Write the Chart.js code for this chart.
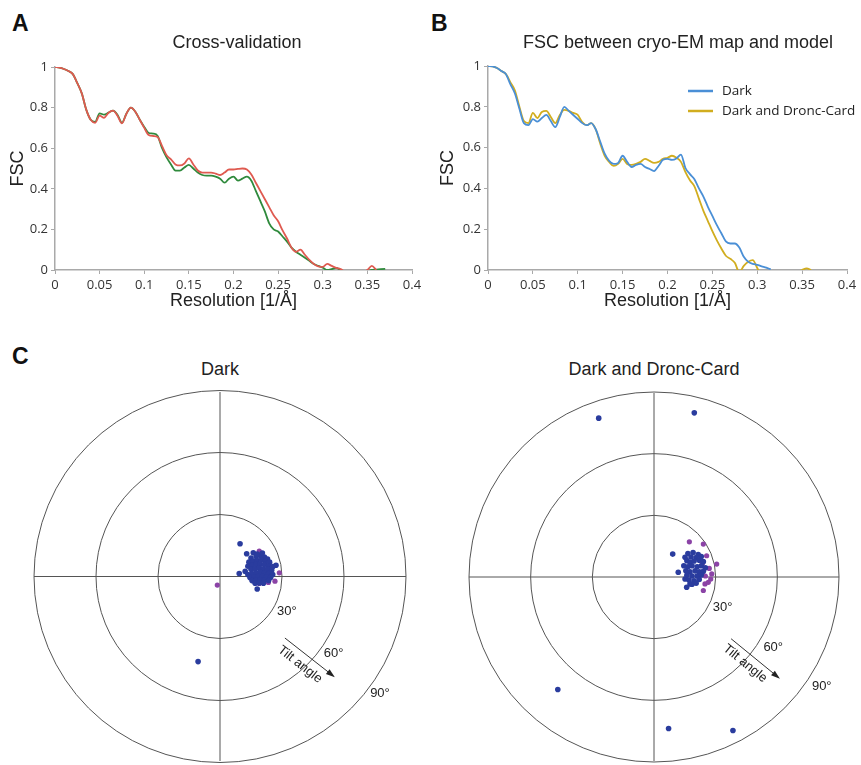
<!DOCTYPE html>
<html>
<head>
<meta charset="utf-8">
<script src="https://cdn.jsdelivr.net/npm/chart.js@4.4.1/dist/chart.umd.min.js"></script>
<style>
  html, body { margin:0; padding:0; background:#fff; }
  #wrap { position:relative; width:861px; height:765px; overflow:hidden; background:#fff; }
  canvas { position:absolute; }
  .letter { position:absolute; font-family:"Liberation Sans", Arial, sans-serif; font-weight:bold; font-size:23px; color:#111; line-height:1; }
  .ptitle { position:absolute; font-family:"Liberation Sans", Arial, sans-serif; font-size:18px; color:#222; text-align:center; line-height:20px; }
</style>
</head>
<body>
<div id="wrap">
  <div class="letter" style="left:12px;top:12px;">A</div>
  <div class="letter" style="left:431px;top:12px;">B</div>
  <div class="letter" style="left:12px;top:345px;">C</div>
  <div class="ptitle" style="left:120px;top:359px;width:200px;">Dark</div>
  <div class="ptitle" style="left:534px;top:359px;width:240px;">Dark and Dronc-Card</div>
  <canvas id="cA" width="430" height="320" style="left:0;top:0;"></canvas>
  <canvas id="cB" width="431" height="320" style="left:430px;top:0;"></canvas>
  <canvas id="cC1" width="430" height="385" style="left:0;top:380px;"></canvas>
  <canvas id="cC2" width="431" height="385" style="left:430px;top:380px;"></canvas>
</div>
<script>
// ---------------- DATA ----------------
const resolution = [0,0.005,0.01,0.015,0.02,0.025,0.03,0.035,0.04,0.045,
  0.05,0.055,0.06,0.065,0.07,0.075,0.08,0.085,0.09,0.095,
  0.1,0.105,0.11,0.115,0.12,0.125,0.13,0.135,0.14,0.145,
  0.15,0.155,0.16,0.165,0.17,0.175,0.18,0.185,0.19,0.195,
  0.2,0.205,0.21,0.215,0.22,0.225,0.23,0.235,0.24,0.245,
  0.25,0.255,0.26,0.265,0.27,0.275,0.28,0.285,0.29,0.295,
  0.3,0.305,0.31,0.315,0.32,0.325,0.33,0.335,0.34,0.345,
  0.35,0.355,0.36,0.365,0.37];

// Panel A: cross-validation
const crossRed = [1.0,0.997,0.99,0.98,0.965,0.92,0.87,0.79,0.74,0.725,
  0.76,0.75,0.775,0.785,0.76,0.722,0.77,0.80,0.78,0.74,
  0.70,0.665,0.66,0.655,0.61,0.565,0.545,0.52,0.515,0.525,
  0.55,0.52,0.49,0.48,0.48,0.48,0.475,0.468,0.48,0.495,
  0.495,0.498,0.50,0.495,0.47,0.43,0.39,0.35,0.31,0.27,
  0.24,0.195,0.155,0.11,0.09,0.10,0.075,0.05,0.03,0.018,
  0.015,0.03,0.02,0.01,0.004,-0.01,-0.02,-0.03,-0.03,-0.015,
  0.0,0.02,0.0,null,null];
const crossGreen = [1.0,0.997,0.99,0.98,0.965,0.92,0.87,0.79,0.74,0.73,
  0.772,0.765,0.775,0.785,0.765,0.725,0.77,0.80,0.78,0.74,
  0.705,0.675,0.672,0.66,0.60,0.555,0.52,0.49,0.49,0.505,
  0.518,0.50,0.48,0.468,0.465,0.465,0.46,0.45,0.43,0.45,
  0.46,0.44,0.45,0.46,0.44,0.39,0.34,0.29,0.23,0.20,
  0.19,0.165,0.14,0.11,0.09,0.075,0.06,0.045,0.03,0.02,
  0.012,0.0,0.004,0.01,0.0,-0.01,-0.01,-0.01,-0.01,-0.01,
  -0.005,0.0,0.002,0.004,0.006];

// Panel B: FSC between map and model
const fscDark = [1.0,0.998,0.99,0.975,0.96,0.91,0.865,0.79,0.72,0.71,
  0.74,0.727,0.745,0.76,0.73,0.70,0.75,0.80,0.78,0.76,
  0.74,0.72,0.71,0.72,0.69,0.63,0.57,0.535,0.52,0.525,
  0.56,0.53,0.505,0.515,0.52,0.505,0.495,0.485,0.51,0.54,
  0.545,0.54,0.547,0.566,0.50,0.47,0.445,0.40,0.36,0.31,
  0.265,0.22,0.18,0.14,0.13,0.13,0.11,0.065,0.04,0.03,
  0.025,0.018,0.012,0.003,null,null,null,null,null,null,
  null,null,null,null,null];
const fscDarkDronc = [1.0,0.998,0.99,0.975,0.96,0.92,0.88,0.80,0.73,0.72,
  0.77,0.745,0.775,0.78,0.75,0.72,0.76,0.785,0.78,0.77,
  0.76,0.725,0.71,0.72,0.69,0.62,0.56,0.53,0.51,0.52,
  0.545,0.52,0.515,0.52,0.53,0.545,0.535,0.525,0.53,0.545,
  0.55,0.56,0.55,0.53,0.48,0.44,0.41,0.35,0.29,0.24,
  0.19,0.145,0.105,0.07,0.055,0.035,-0.01,0.02,0.04,0.048,
  0.01,-0.03,-0.04,-0.04,-0.04,-0.04,-0.03,-0.03,-0.02,-0.01,
  0.0,0.008,0.0,null,null];

const xTickLabels = ['0','0.05','0.1','0.15','0.2','0.25','0.3','0.35','0.4'];
const yTickLabels = ['0','0.2','0.4','0.6','0.8','1'];

// Panel C: tilt-angle distributions, [x, y] in degrees
const darkBlue = [[9.7,16.0],[12.9,11.1],[16.1,11.6],[9.3,1.5],[18.0,-6.1],[27.1,5.5],[-10.6,-41.5],
  [15,9],[17.5,9.8],[19.5,10.2],[21.5,9.5],[23,8.5],[20.5,11.5],[18,11],
  [14,7],[16,7.5],[18,7.8],[20,8],[22,7.6],[24,7],
  [13.5,5],[15.5,5.5],[17.5,5.8],[19.5,6],[21.5,5.8],[23.5,5.2],[25.5,4.8],
  [12.2,2.5],[15,3.5],[17,3.8],[19,4],[21,3.8],[23,3.5],[25,3],
  [13.5,1],[15.5,1.5],[17.5,1.8],[19.5,2],[21.5,1.8],[23.5,1.5],[25.5,1],
  [14.5,-0.5],[16.5,-0.2],[18.5,0],[20.5,0],[22.5,-0.2],[24.5,-0.5],
  [15.5,-2],[17.5,-1.8],[19.5,-1.6],[21.5,-1.8],[23.5,-2],
  [17,-3.3],[19,-3.2],[21,-3.3]];
const darkPurple = [[19.0,12.4],[19.0,-3.4],[23.4,-2.9],[26.6,-2.3],[28.7,1.8],[-1.3,-4.2]];

const droncBlue = [[-26.9,77.7],[19.6,80.3],[-46.8,-55.0],[7.1,-74.1],[38.4,-75.1],
  [9.1,11.2],[15.1,9.6],[11.8,2.3],[15.1,-1.0],[15.9,-5.0],[17.5,-3.4],
  [16.5,11.5],[19,12],[21.5,11],[18,9.8],[20.5,9.5],[23,10],
  [16,8],[17.5,7.2],[19.5,7.8],[22,8.2],[24,7.5],
  [14.5,5.5],[16.5,5],[18.5,5.5],[21,5],[23,5.5],[25,4.5],
  [15.5,3],[17.5,2.5],[20,3],[22,2.5],[24,2.8],
  [16,0.8],[18.5,0.5],[21,0.5],[23,1],
  [17,-1.5],[19.5,-1.8],[22,-1.2],[18.5,-3.5],[20.5,-3]];
const droncPurple = [[17.2,17.2],[24.0,16.1],[30.5,6.3],[26.9,4.2],[28.1,1.5],[27.6,-1.0],
  [24.8,-3.4],[26.4,-2.6],[24.0,-6.6],[25.6,10.4],[23.5,6.5],[25,0.5]];

const ringAngles = [30, 60, 90];
const ringLabels = ['30°', '60°', '90°'];

// ---------------- HELPERS ----------------
const toXY = arr => resolution.map((x, i) => ({x: x, y: arr[i] === undefined ? null : arr[i]}));
const toPts = arr => arr.map(p => ({x: p[0], y: p[1]}));

const tickFont = {family: '"Open Sans", "Liberation Sans", sans-serif', size: 13};
const axisTitleFont = {family: '"Liberation Sans", Arial, sans-serif', size: 18};
const axisColor = '#a9a9a9';

const fixedTitle = {
  id: 'fixedTitle',
  afterDraw(chart, args, o) {
    const ctx = chart.ctx;
    ctx.save();
    ctx.font = '18px "Liberation Sans", Arial, sans-serif';
    ctx.fillStyle = '#222';
    ctx.textAlign = 'center';
    ctx.textBaseline = 'middle';
    ctx.fillText(o.text, o.x, o.y);
    ctx.restore();
  }
};

const fixedLegend = {
  id: 'fixedLegend',
  afterDraw(chart, args, o) {
    if (!o.show) return;
    const ctx = chart.ctx;
    ctx.save();
    ctx.font = '13.5px "Open Sans", "Liberation Sans", sans-serif';
    ctx.textBaseline = 'middle';
    chart.data.datasets.forEach((ds, i) => {
      const y = o.y + i * o.gap;
      ctx.strokeStyle = ds.borderColor;
      ctx.lineWidth = 2.5;
      ctx.beginPath();
      ctx.moveTo(o.x, y); ctx.lineTo(o.x + o.len, y);
      ctx.stroke();
      ctx.fillStyle = '#222';
      ctx.fillText(ds.label, o.x + o.len + 9, y);
    });
    ctx.restore();
  }
};

function lineChart(id, datasets, titleOpts, legendOpts, yWidth, rightPad, topPad) {
  return new Chart(document.getElementById(id), {
    type: 'line',
    data: { datasets: datasets },
    plugins: [fixedTitle, fixedLegend],
    options: {
      responsive: false,
      animation: false,
      layout: { padding: { left: 0, right: rightPad, top: topPad, bottom: 0 } },
      elements: { point: { radius: 0 }, line: { borderWidth: 1.8, cubicInterpolationMode: 'monotone' } },
      plugins: {
        legend: { display: false },
        tooltip: { enabled: false },
        fixedTitle: titleOpts,
        fixedLegend: legendOpts
      },
      scales: {
        x: {
          type: 'linear', min: 0, max: 0.4,
          afterFit: s => { s.height = 50; },
          ticks: { stepSize: 0.05, font: tickFont, color: '#333', padding: 3, maxRotation: 0,
                   callback: (v, i) => xTickLabels[i] },
          grid: { display: true, drawOnChartArea: false, drawTicks: true, tickLength: 4, color: axisColor },
          border: { color: axisColor, width: 1.5 },
          title: { display: true, text: 'Resolution [1/Å]', font: axisTitleFont, color: '#222', padding: { top: 0, bottom: 8 } }
        },
        y: {
          min: 0, max: 1,
          afterFit: s => { s.width = yWidth; },
          ticks: { stepSize: 0.2, font: tickFont, color: '#333', padding: 3,
                   callback: (v, i) => yTickLabels[i] },
          grid: { display: true, drawOnChartArea: false, drawTicks: true, tickLength: 4, color: axisColor },
          border: { color: axisColor, width: 1.5 },
          title: { display: true, text: 'FSC', font: axisTitleFont, color: '#222', padding: { top: 7, bottom: 0 } }
        }
      }
    }
  });
}

lineChart('cA', [
  { label: 'Cross-validation (red)', data: toXY(crossRed), borderColor: '#df5a50', spanGaps: false },
  { label: 'Cross-validation (green)', data: toXY(crossGreen), borderColor: '#2f8a3c', spanGaps: false }
], { text: 'Cross-validation', x: 237, y: 43 }, { show: false }, 55, 18, 67);

lineChart('cB', [
  { label: 'Dark', data: toXY(fscDark), borderColor: '#4a8fd6', spanGaps: false },
  { label: 'Dark and Dronc-Card', data: toXY(fscDarkDronc), borderColor: '#d1ad1f', spanGaps: false }
], { text: 'FSC between cryo-EM map and model', x: 248, y: 43 },
   { show: true, x: 258, y: 91, gap: 20, len: 25 }, 58, 14, 66);

// ---------------- POLAR TILT PLOTS ----------------
const polarDecor = {
  id: 'polarDecor',
  beforeDatasetsDraw(chart, args, o) {
    const {ctx, scales: {x, y}} = chart;
    const cx = x.getPixelForValue(0), cy = y.getPixelForValue(0);
    const P = (a, b) => [x.getPixelForValue(a), y.getPixelForValue(b)];
    ctx.save();
    ctx.strokeStyle = '#555';
    ctx.lineWidth = 1;
    ctx.beginPath();
    ctx.moveTo(x.getPixelForValue(-90), cy); ctx.lineTo(x.getPixelForValue(90), cy);
    ctx.moveTo(cx, y.getPixelForValue(90)); ctx.lineTo(cx, y.getPixelForValue(-90));
    ctx.stroke();
    ringAngles.forEach(r => {
      const rad = x.getPixelForValue(r) - cx;
      ctx.beginPath();
      ctx.arc(cx, cy, rad, 0, Math.PI * 2);
      ctx.stroke();
    });
    ctx.fillStyle = '#222';
    ctx.font = '13px "Liberation Sans", Arial, sans-serif';
    ctx.textAlign = 'center';
    ctx.textBaseline = 'middle';
    o.labelPos.forEach((p, i) => {
      const q = P(p[0], p[1]);
      ctx.fillText(ringLabels[i], q[0], q[1]);
    });
    // tilt angle arrow
    const a = P(o.arrow[0], o.arrow[1]), b = P(o.arrow[2], o.arrow[3]);
    ctx.strokeStyle = '#333';
    ctx.beginPath(); ctx.moveTo(a[0], a[1]); ctx.lineTo(b[0], b[1]); ctx.stroke();
    const ang = Math.atan2(b[1] - a[1], b[0] - a[0]);
    ctx.fillStyle = '#222';
    ctx.beginPath();
    ctx.moveTo(b[0] + 2 * Math.cos(ang), b[1] + 2 * Math.sin(ang));
    ctx.lineTo(b[0] - 7 * Math.cos(ang) + 3 * Math.sin(ang), b[1] - 7 * Math.sin(ang) - 3 * Math.cos(ang));
    ctx.lineTo(b[0] - 7 * Math.cos(ang) - 3 * Math.sin(ang), b[1] - 7 * Math.sin(ang) + 3 * Math.cos(ang));
    ctx.closePath(); ctx.fill();
    const t = P(o.textPos[0], o.textPos[1]);
    ctx.translate(t[0], t[1]);
    ctx.rotate(ang);
    ctx.fillText('Tilt angle', 0, 0);
    ctx.restore();
  }
};

function polarChart(id, blue, purple, pad, decor) {
  return new Chart(document.getElementById(id), {
    type: 'scatter',
    data: { datasets: [
      { label: 'Tilt (blue)', data: toPts(blue), backgroundColor: '#2a3c9e', borderWidth: 0, pointRadius: 2.8 },
      { label: 'Tilt (purple)', data: toPts(purple), backgroundColor: '#8b43a6', borderWidth: 0, pointRadius: 2.6 }
    ]},
    plugins: [polarDecor],
    options: {
      responsive: false,
      animation: false,
      layout: { padding: pad },
      plugins: { legend: { display: false }, tooltip: { enabled: false }, polarDecor: decor },
      scales: {
        x: { type: 'linear', min: -90, max: 90, display: false },
        y: { type: 'linear', min: -90, max: 90, display: false }
      }
    }
  });
}

polarChart('cC1', darkBlue, darkPurple, { left: 34, right: 24, top: 12, bottom: 1 },
  { labelPos: [[32.3, -17.1], [55.0, -37.7], [77.4, -57.0]],
    arrow: [31.4, -30.0, 54.8, -48.5], textPos: [38.7, -42.9] });
polarChart('cC2', droncBlue, droncPurple, { left: 39, right: 22, top: 13, bottom: 2 },
  { labelPos: [[33.4, -15.1], [58.0, -34.4], [81.6, -53.4]],
    arrow: [37.5, -30.2, 60.5, -49.1], textPos: [44.3, -42.3] });
</script>
</body>
</html>
